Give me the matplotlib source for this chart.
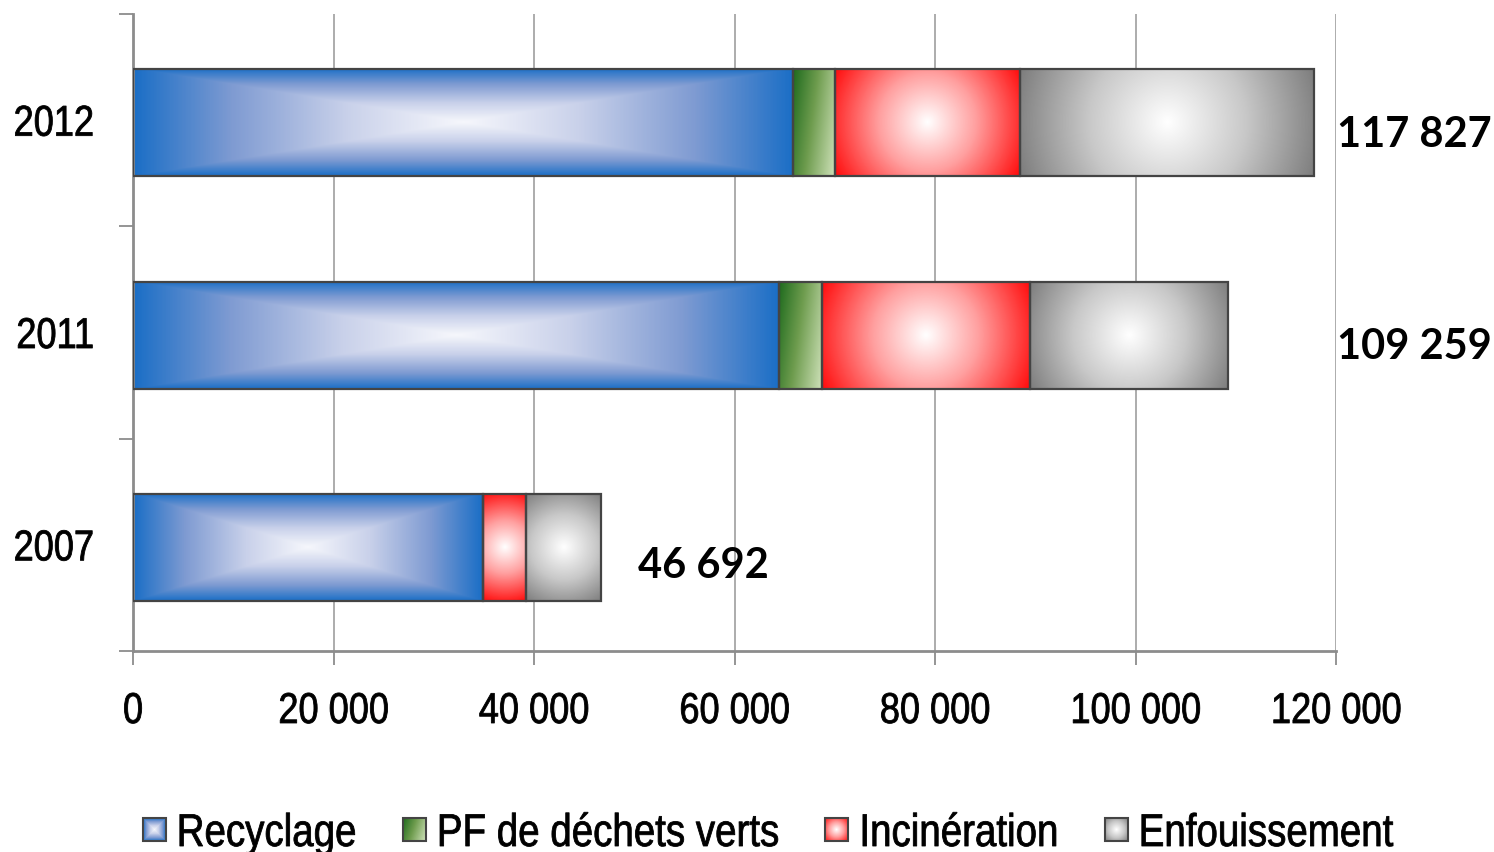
import numpy as np
import matplotlib
matplotlib.use("Agg")
import matplotlib.pyplot as plt
from matplotlib import font_manager
from matplotlib.colors import LinearSegmentedColormap
from matplotlib.image import BboxImage
from matplotlib.transforms import Bbox, TransformedBbox, Affine2D
from matplotlib.patches import Rectangle
from matplotlib.patheffects import AbstractPathEffect

# ---------------- data ----------------
years = ["2007", "2011", "2012"]
recyclage = [34900, 64450, 65850]
pf_dechets_verts = [0, 4300, 4200]
incineration = [4300, 20700, 18450]
enfouissement = [7492, 19809, 29327]
totals = [46692, 109259, 117827]
series_names = ["Recyclage", "PF de déchets verts", "Incinération", "Enfouissement"]
xticks = [0, 20000, 40000, 60000, 80000, 100000, 120000]

names = {f.name for f in font_manager.fontManager.ttflist}
if "Liberation Sans Narrow" in names:
    NARROW, SX = "Liberation Sans Narrow", 1.0
else:
    NARROW, SX = "Liberation Sans", 0.84
BOLD = "Lato" if "Lato" in names else "DejaVu Sans"


class XScale(AbstractPathEffect):
    """Horizontally condense text glyphs (emulates a narrow font)."""

    def __init__(self, sx, anchor="center", stroke=0.6):
        super().__init__()
        self.sx = sx
        self.anchor = anchor
        self.stroke = stroke

    def draw_path(self, renderer, gc, tpath, affine, rgbFace=None):
        ext = tpath.get_extents()
        if self.anchor == "left":
            cx = 0.0
        elif self.anchor == "right":
            cx = ext.x1
        else:
            cx = 0.5 * (ext.x0 + ext.x1)
        tr = Affine2D().translate(-cx, 0).scale(self.sx, 1).translate(cx, 0) + affine
        renderer.draw_path(gc, tpath, tr, rgbFace)
        if self.stroke:
            gc0 = renderer.new_gc()
            gc0.copy_properties(gc)
            gc0.set_linewidth(self.stroke)
            gc0.set_foreground(rgbFace if rgbFace is not None else "black")
            renderer.draw_path(gc0, tpath, tr, None)
            gc0.restore()


W, H = 1494, 853
fig = plt.figure(figsize=(W / 100, H / 100), dpi=100)
ax_l, ax_top, ax_w, ax_h = 133, 15, 1203, 637
ax = fig.add_axes([ax_l / W, (H - ax_top - ax_h) / H, ax_w / W, ax_h / H])

px_per_x = ax_w / 120000.0
px_per_y = ax_h / 3.0
bar_h = 0.504
bar_shift = -0.012

# colormaps
cm_blue = LinearSegmentedColormap.from_list("b", [(0, "#f6f7fc"), (0.35, "#c9d1ea"), (0.7, "#7f9bd2"), (1, "#1a6ec6")])
cm_green = LinearSegmentedColormap.from_list("g", [(0, "#1d6a1d"), (0.45, "#6e9c4e"), (1, "#d2e4bd")])
cm_red = LinearSegmentedColormap.from_list("r", [(0, "#ffffff"), (0.45, "#ffa0a0"), (1, "#ff0a0a")])
cm_grey = LinearSegmentedColormap.from_list("k", [(0, "#ffffff"), (0.5, "#c8c8c8"), (1, "#7c7c7c")])


def grad_rect(w, h):
    yy, xx = np.mgrid[0:h, 0:w]
    nx = np.abs((xx + 0.5) / w * 2 - 1)
    ny = np.abs((yy + 0.5) / h * 2 - 1)
    return np.maximum(nx, ny)


def grad_radial(w, h):
    yy, xx = np.mgrid[0:h, 0:w]
    dx = xx + 0.5 - w / 2
    dy = yy + 0.5 - h / 2
    return np.clip(np.hypot(dx, dy) / np.hypot(w / 2, h / 2), 0, 1)


def grad_linear(w, h):
    yy, xx = np.mgrid[0:h, 0:w]
    t = (xx + 0.5) / w * 0.75 + (yy + 0.5) / h * 0.25
    return np.clip(t, 0, 1)


kinds = [(cm_blue, grad_rect), (cm_green, grad_linear), (cm_red, grad_radial), (cm_grey, grad_radial)]
all_series = [recyclage, pf_dechets_verts, incineration, enfouissement]

ypos = np.arange(len(years))
left = np.zeros(len(years))
for vals, (cmap, gfun) in zip(all_series, kinds):
    vals = np.array(vals, dtype=float)
    bars = ax.barh(ypos + bar_shift, vals, left=left, height=bar_h, color=cmap(0.6),
                   zorder=2, linewidth=0)
    for b, v in zip(bars, vals):
        if v <= 0:
            continue
        x0, y0 = b.get_x(), b.get_y()
        w, h = b.get_width(), b.get_height()
        wp = max(2, int(round(w * px_per_x)))
        hp = max(2, int(round(h * px_per_y)))
        img = cmap(gfun(wp, hp))
        im = ax.imshow(img, extent=[x0, x0 + w, y0, y0 + h], aspect="auto",
                       interpolation="bilinear", zorder=2.5)
        im.set_clip_path(b)
    ax.barh(ypos + bar_shift, vals, left=left, height=bar_h, fill=False,
            edgecolor="#444444", linewidth=1.6, zorder=3)
    left += vals

ax.set_xlim(0, 120000)
ax.set_ylim(-0.5, 2.5)
ax.set_aspect("auto")

# grid and spines
ax.set_xticks(xticks)
ax.set_xticklabels([f"{v:,}".replace(",", " ") for v in xticks])
ax.xaxis.grid(True, color="#a6a6a6", linewidth=1.3, zorder=0)
ax.set_axisbelow(True)
for s in ["top", "right"]:
    ax.spines[s].set_visible(False)
for s in ["left", "bottom"]:
    ax.spines[s].set_color("#8c8c8c")
    ax.spines[s].set_linewidth(2.0)
ax.tick_params(axis="x", length=10, width=1.3, color="#8c8c8c", pad=19.5,
               labelsize=31)
ax.set_yticks(ypos)
ax.set_yticklabels(years)
ax.set_yticks([-0.5, 0.5, 1.5, 2.5], minor=True)
ax.tick_params(axis="y", which="major", length=0, pad=28, labelsize=31)
ax.tick_params(axis="y", which="minor", length=10, width=1.3, color="#8c8c8c")
for lab in ax.get_xticklabels():
    lab.set_family([NARROW, "DejaVu Sans"])
    lab.set_path_effects([XScale(SX, "center")])
for lab in ax.get_yticklabels():
    lab.set_family([NARROW, "DejaVu Sans"])
    lab.set_path_effects([XScale(SX, "right")])

# totals
label_offsets = [(37, -18), (None, -11), (None, -11)]
for i, (t, off) in enumerate(zip(totals, label_offsets)):
    txt = f"{t:,}".replace(",", " ")
    if off[0] is None:
        ax.annotate(txt, xy=(1.0, ypos[i] + bar_shift), xycoords=("axes fraction", "data"),
                    xytext=(1, off[1] * 0.72), textcoords="offset points",
                    ha="left", va="center", fontsize=30, fontweight="bold",
                    family=[BOLD, "DejaVu Sans"])
    else:
        ax.annotate(txt, xy=(t, ypos[i] + bar_shift), xytext=(off[0] * 0.72, off[1] * 0.72),
                    textcoords="offset points", ha="left", va="center",
                    fontsize=30, fontweight="bold", family=[BOLD, "DejaVu Sans"])

# ---------------- legend (gradient swatches, condensed labels) ----------------
leg_size = 33
mk = 23          # marker size, px
mk_pad = 11      # marker -> text, px
col_gap = 46     # text -> next marker, px
leg_cx = 768     # legend centre, px
leg_cy = 830     # marker centre, px (from top)
baseline = 847   # text baseline, px (from top)

renderer = fig.canvas.get_renderer()
texts, widths = [], []
for name in series_names:
    t = fig.text(0, (H - baseline) / H, name, fontsize=leg_size, va="baseline", ha="left",
                 family=[NARROW, "DejaVu Sans"])
    t.set_path_effects([XScale(SX, "left")])
    texts.append(t)
    widths.append(t.get_window_extent(renderer).width * SX)
total_w = sum(mk + mk_pad + w for w in widths) + col_gap * (len(widths) - 1)
x = leg_cx - total_w / 2
for t, w, (cmap, gfun) in zip(texts, widths, kinds):
    bb = Bbox.from_bounds(x / W, (H - leg_cy - mk / 2) / H, mk / W, mk / H)
    img = BboxImage(TransformedBbox(bb, fig.transFigure), interpolation="bilinear")
    img.set_data(cmap(gfun(mk, mk)))
    fig.add_artist(img)
    fig.add_artist(Rectangle((bb.x0, bb.y0), bb.width, bb.height, transform=fig.transFigure,
                             fill=False, edgecolor="#444444", lw=1.5))
    t.set_x((x + mk + mk_pad) / W)
    x += mk + mk_pad + w + col_gap

fig.savefig("out.png", dpi=100)
